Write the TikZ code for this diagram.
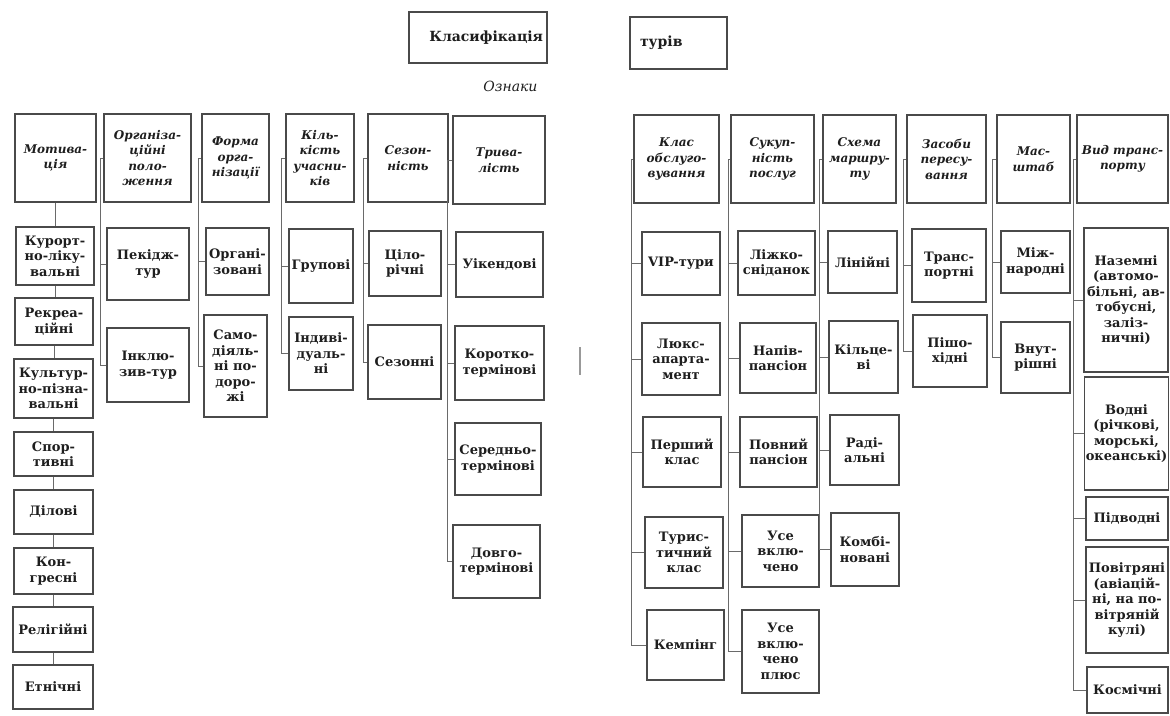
\documentclass[tikz,border=0pt]{standalone}
\usepackage{fontspec}
\setmainfont{DejaVu Serif}
\definecolor{boxc}{HTML}{4A4A4A}
\definecolor{linec}{HTML}{6A6A6A}
\definecolor{txt}{HTML}{1E1E1E}
\tikzset{
  box/.style={draw=boxc, line width=1.1pt, inner sep=1pt, align=center, text=txt,
              font=\fontsize{13}{15.5}\selectfont\bfseries},
  kid/.style={box},
  head/.style={box, font=\fontsize{12}{15.5}\selectfont\bfseries\itshape},
  link/.style={draw=linec, line width=0.9pt},
}
% \bx[style]{name}{x1}{y1}{x2}{y2}{text}: a box given by its corners
\newcommand\bx[7][kid]{\node[#1, minimum width={#5-#3}, minimum height={#6-#4}] (#2) at ({(#3+#5)/2},{(#4+#6)/2}) {#7};}
% \bus{header}{x of bus}{last child}{other children}
\newcommand\bus[4]{%
  \coordinate (#1-b) at (#2,0);
  \draw[link] (#1.west) -- (#1.west -| #1-b) -- (#1-b |- #3.west) -- (#3.west);
  \foreach \c in {#4} {\draw[link] (#1-b |- \c.west) -- (\c.west);}
}
\begin{document}
\begin{tikzpicture}[x=1pt, y=-1pt]
\useasboundingbox (0,0) rectangle (1170,715);
\fill[white] (0,0) rectangle (1170,715);

% title
\node[box, font=\fontsize{14}{16}\selectfont\bfseries, minimum width=138, minimum height=51,
      text width=130, inner xsep=4pt, align=right] (kl) at (478,37.5) {Класифікація};
\node[text=txt, anchor=east, font=\fontsize{14}{16}\selectfont\itshape] (ozn) at (541,86) {Ознаки};
\node[box, font=\fontsize{14}{16}\selectfont\bfseries, minimum width=97, minimum height=52,
      text width=77, inner xsep=10pt, align=left] (tur) at (678.5,43) {турів};

% left headers
\bx[head]{mot}{15}{114}{96}{202}{Мотива-\\ція}
\bx[head]{org}{104}{114}{191}{202}{Організа-\\ційні\\поло-\\ження}
\bx[head]{frm}{202}{114}{269}{202}{Форма\\орга-\\нізації}
\bx[head]{kil}{286}{114}{354}{202}{Кіль-\\кість\\учасни-\\ків}
\bx[head]{sez}{368}{114}{448}{202}{Сезон-\\ність}
\bx[head]{trv}{453}{116}{545}{204}{Трива-\\лість}

% motivation chain
\bx{k1}{16}{227}{94}{285}{Курорт-\\но-ліку-\\вальні}
\bx{k2}{15}{298}{93}{345}{Рекреа-\\ційні}
\bx{k3}{14}{359}{93}{418}{Культур-\\но-пізна-\\вальні}
\bx{k4}{14}{432}{93}{476}{Спор-\\тивні}
\bx{k5}{14}{490}{93}{534}{Ділові}
\bx{k6}{14}{548}{93}{594}{Кон-\\гресні}
\bx{k7}{13}{607}{93}{652}{Релігійні}
\bx{k8}{13}{665}{93}{709}{Етнічні}
\draw[link] (mot.south) -- (mot.south |- k1.north);
\foreach \a/\b in {k1/k2,k2/k3,k3/k4,k4/k5,k5/k6,k6/k7,k7/k8}
  \draw[link] (\a.south) -- (\a.south |- \b.north);

% left children
\bx{pek}{107}{228}{189}{300}{Пекідж-\\тур}
\bx{ink}{107}{328}{189}{402}{Інклю-\\зив-тур}
\bx{orz}{206}{228}{269}{295}{Органі-\\зовані}
\bx{sam}{204}{315}{267}{417}{Само-\\діяль-\\ні по-\\доро-\\жі}
\bx{grp}{289}{229}{353}{303}{Групові}
\bx{ind}{289}{317}{353}{390}{Індиві-\\дуаль-\\ні}
\bx{cil}{369}{231}{441}{296}{Ціло-\\річні}
\bx{szn}{368}{325}{441}{399}{Сезонні}
\bx{uik}{456}{232}{543}{297}{Уікендові}
\bx{krt}{455}{326}{544}{400}{Коротко-\\термінові}
\bx{ser}{455}{423}{541}{495}{Середньо-\\термінові}
\bx{dov}{453}{525}{540}{598}{Довго-\\термінові}

\bus{org}{100}{ink}{pek}
\bus{frm}{198}{sam}{orz}
\bus{kil}{281}{ind}{grp}
\bus{sez}{363}{szn}{cil}
\bus{trv}{447}{dov}{uik,krt,ser}

% right headers
\bx[head]{kls}{634}{115}{719}{203}{Клас\\обслуго-\\вування}
\bx[head]{suk}{731}{115}{814}{203}{Сукуп-\\ність\\послуг}
\bx[head]{sxm}{823}{115}{896}{203}{Схема\\маршру-\\ту}
\bx[head]{zas}{907}{115}{986}{203}{Засоби\\пересу-\\вання}
\bx[head]{mas}{997}{115}{1070}{203}{Мас-\\штаб}
\bx[head]{vid}{1077}{115}{1168}{203}{Вид транс-\\порту}

% right children
\bx{c1}{642}{232}{720}{295}{VIP-тури}
\bx{c2}{642}{323}{720}{395}{Люкс-\\апарта-\\мент}
\bx{c3}{643}{417}{721}{487}{Перший\\клас}
\bx{c4}{645}{517}{723}{588}{Турис-\\тичний\\клас}
\bx{c5}{647}{610}{724}{680}{Кемпінг}

\bx{s1}{738}{231}{815}{295}{Ліжко-\\сніданок}
\bx{s2}{740}{323}{816}{393}{Напів-\\пансіон}
\bx{s3}{740}{417}{817}{487}{Повний\\пансіон}
\bx{s4}{742}{515}{819}{587}{Усе\\вклю-\\чено}
\bx{s5}{742}{610}{819}{693}{Усе\\вклю-\\чено\\плюс}

\bx{m1}{828}{231}{897}{293}{Лінійні}
\bx{m2}{829}{321}{898}{393}{Кільце-\\ві}
\bx{m3}{830}{415}{899}{485}{Раді-\\альні}
\bx{m4}{831}{513}{899}{586}{Комбі-\\новані}

\bx{z1}{912}{229}{986}{302}{Транс-\\портні}
\bx{z2}{913}{315}{987}{387}{Пішо-\\хідні}

\bx{n1}{1001}{231}{1070}{293}{Між-\\народні}
\bx{n2}{1001}{322}{1070}{393}{Внут-\\рішні}

\bx{v1}{1084}{228}{1168}{372}{Наземні\\(автомо-\\більні, ав-\\тобусні,\\заліз-\\ничні)}
\bx{v2}{1085}{377}{1168}{490}{Водні\\(річкові,\\морські,\\океанські)}
\bx{v3}{1086}{497}{1168}{540}{Підводні}
\bx{v4}{1086}{547}{1168}{653}{Повітряні\\(авіацій-\\ні, на по-\\вітряній\\кулі)}
\bx{v5}{1087}{667}{1168}{713}{Космічні}

\bus{kls}{631}{c5}{c1,c2,c3,c4}
\bus{suk}{728}{s5}{s1,s2,s3,s4}
\bus{sxm}{819}{m4}{m1,m2,m3}
\bus{zas}{903}{z2}{z1}
\bus{mas}{992}{n2}{n1}
\bus{vid}{1073}{v5}{v1,v2,v3,v4}

% mark in the gutter between the two halves
\draw[draw=gray!80, line width=1.3pt] (580,347) -- (580,375);
\end{tikzpicture}
\end{document}
